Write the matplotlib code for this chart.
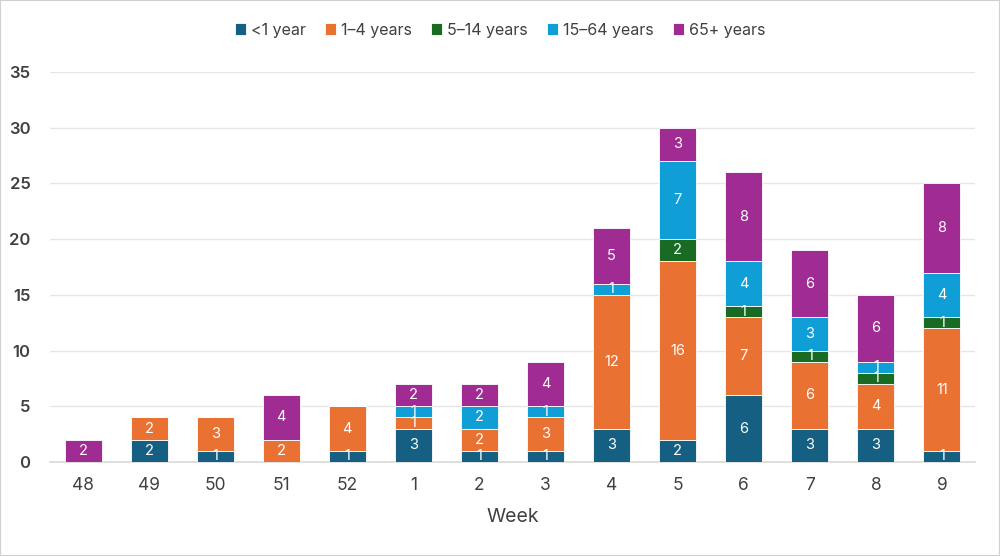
import matplotlib
matplotlib.use("Agg")
import matplotlib.pyplot as plt
import numpy as np

weeks = ["48", "49", "50", "51", "52", "1", "2", "3", "4", "5", "6", "7", "8", "9"]
lt1 = [0, 2, 1, 0, 1, 3, 1, 1, 3, 2, 6, 3, 3, 1]
y1_4 = [0, 2, 3, 2, 4, 1, 2, 3, 12, 16, 7, 6, 4, 11]
y5_14 = [0, 0, 0, 0, 0, 0, 0, 0, 0, 2, 1, 1, 1, 1]
y15_64 = [0, 0, 0, 0, 0, 1, 2, 1, 1, 7, 4, 3, 1, 4]
y65 = [2, 0, 0, 4, 0, 2, 2, 4, 5, 3, 8, 6, 6, 8]

series = [("<1 year", lt1, "#156082"),
          ("1\u20134 years", y1_4, "#e97132"),
          ("5\u201314 years", y5_14, "#196b24"),
          ("15\u201364 years", y15_64, "#0f9ed5"),
          ("65+ years", y65, "#a02b93")]

plt.rcParams['font.family'] = ['Inter', 'DejaVu Sans']

fig = plt.figure(figsize=(10, 5.56), dpi=100)
ax = fig.add_axes([0.05, 0.169, 0.925, 0.7015])
fig.patches.append(plt.Rectangle((0, 0), 1, 1, transform=fig.transFigure,
                                 fill=False, edgecolor="#d0d0d0", lw=1.5))

x = np.arange(len(weeks))
bottom = np.zeros(len(weeks))
handles = []
for name, vals, col in series:
    vals = np.array(vals, dtype=float)
    bars = ax.bar(x, vals, 0.56, bottom=bottom, color=col, edgecolor="white",
                  linewidth=0.6, label=name, zorder=3)
    for xi, b, v in zip(x, bottom, vals):
        if v > 0:
            ax.text(xi, b + v / 2, f"{int(v)}", ha="center", va="center",
                    color="white", fontsize=10.5, zorder=4)
    bottom += vals
    handles.append(bars)

ax.set_xlim(-0.5, len(weeks) - 0.5)
ax.set_ylim(0, 35)
ax.set_yticks(range(0, 36, 5))
ax.yaxis.grid(True, color="#e6e6e6", lw=1, zorder=0)
for s in ["top", "right", "left"]:
    ax.spines[s].set_visible(False)
ax.spines["bottom"].set_color("#d9d9d9")
ax.spines["bottom"].set_linewidth(1.2)
ax.tick_params(axis="both", length=0)
ax.tick_params(axis="y", pad=14, labelsize=12, labelcolor="#404040")
ax.tick_params(axis="x", pad=11, labelsize=12.5, labelcolor="#404040")
for lab in ax.get_yticklabels():
    lab.set_fontweight("semibold")
ax.set_xticks(x)
ax.set_xticklabels(weeks)
ax.set_xlabel("Week", fontsize=14, color="#404040", labelpad=10)

fig.legend(handles=handles, loc="center", bbox_to_anchor=(0.5, 0.946), ncol=5,
           frameon=False, fontsize=11.5, handlelength=0.7, handleheight=0.7,
           handletextpad=0.3, columnspacing=1.2, labelcolor="#404040")

fig.savefig("out.png", dpi=100)
